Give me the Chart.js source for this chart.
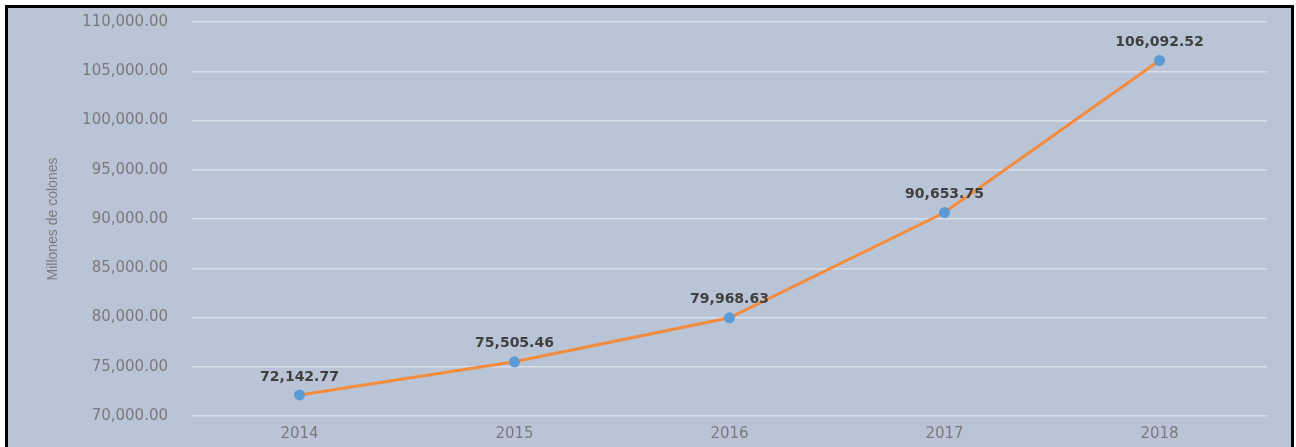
<!DOCTYPE html>
<html>
<head>
<meta charset="utf-8">
<script src="https://cdn.jsdelivr.net/npm/chart.js@4.4.1/dist/chart.umd.min.js"></script>
<style>
    html, body { margin: 0; padding: 0; background: #ffffff; overflow: hidden; }
    #frame {
        position: absolute; left: 5px; top: 5px;
        width: 1283px; height: 450px;
        border: 3px solid #000000; border-bottom: none;
        background: #b9c4d6;
    }
    #wrap { position: absolute; left: 0; top: -19px; width: 1283px; height: 460px; }
</style>
</head>
<body>
<div id="frame"><div id="wrap"><canvas id="ingresosChart"></canvas></div></div>
<script>
const years = ['2014', '2015', '2016', '2017', '2018'];
const montos = [72142.77, 75505.46, 79968.63, 90653.75, 106092.52];
const yMin = 70000;
const yMax = 110000;
const yStep = 5000;

const fmt = new Intl.NumberFormat('en-US', { minimumFractionDigits: 2, maximumFractionDigits: 2 });

// etiquetas de datos encima de cada punto
const valueLabels = {
    id: 'valueLabels',
    afterDatasetsDraw(chart) {
        const ctx = chart.ctx;
        const meta = chart.getDatasetMeta(0);
        ctx.save();
        ctx.font = 'bold 14px "DejaVu Sans"';
        ctx.fillStyle = '#404040';
        ctx.textAlign = 'center';
        ctx.textBaseline = 'middle';
        meta.data.forEach(function (pt, i) {
            ctx.fillText(fmt.format(montos[i]), pt.x, pt.y - 18);
        });
        ctx.restore();
    }
};

document.addEventListener('DOMContentLoaded', function () {
    const ingresosChart = new Chart(document.getElementById('ingresosChart'), {
        type: 'line',
        data: {
            labels: years,
            datasets: [{
                data: montos,
                borderColor: '#f58b3c',
                borderWidth: 3,
                pointBackgroundColor: '#5b9bd5',
                pointBorderColor: '#5b9bd5',
                pointRadius: 4,
                tension: 0
            }]
        },
        options: {
            responsive: true,
            maintainAspectRatio: false,
            animation: false,
            layout: { padding: { top: 14, right: 24, bottom: 0, left: 0 } },
            plugins: {
                legend: { display: false },
                tooltip: { enabled: false }
            },
            scales: {
                x: {
                    offset: true,
                    grid: { display: false, drawTicks: false },
                    border: { display: false },
                    ticks: {
                        color: '#7a7a7a',
                        padding: 9,
                        font: { family: 'DejaVu Sans', size: 15 }
                    },
                    afterFit(scale) { scale.height = 32; }
                },
                y: {
                    min: yMin,
                    max: yMax,
                    grid: { color: '#d9dee8', lineWidth: 1.5, drawTicks: false },
                    border: { display: false },
                    ticks: {
                        stepSize: yStep,
                        color: '#7a7a7a',
                        padding: 24,
                        font: { family: 'DejaVu Sans', size: 15 },
                        callback: function (v) { return fmt.format(v); }
                    },
                    title: {
                        display: true,
                        text: 'Millones de colones',
                        color: '#7a7a7a',
                        padding: { top: 37, bottom: 0 },
                        font: { family: '"Liberation Sans Narrow", "Liberation Sans"', size: 14 }
                    },
                    afterFit(scale) { scale.width = 184; }
                }
            }
        },
        plugins: [valueLabels]
    });
});
</script>
</body>
</html>
